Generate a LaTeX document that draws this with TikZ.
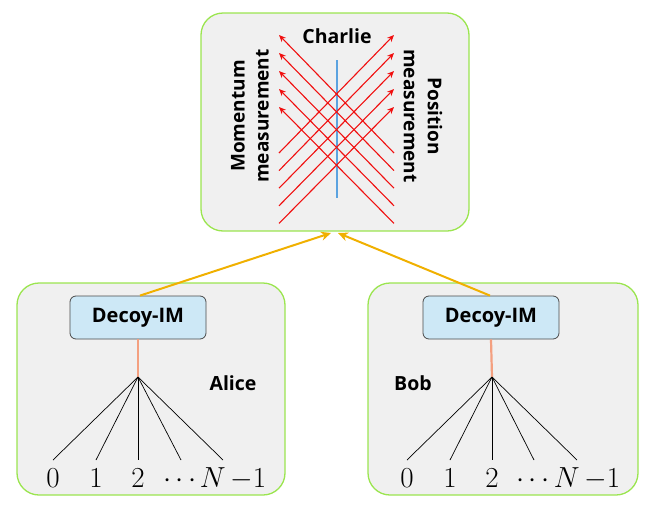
\RequirePackage{fix-cm}
\documentclass[tikz,border=0pt]{standalone}
\usepackage{fontspec}
\setsansfont{Open Sans}
\usetikzlibrary{arrows.meta}
\definecolor{boxgray}{HTML}{F0F0F0}
\definecolor{boxgreen}{HTML}{9BE550}
\definecolor{imblue}{HTML}{CDE8F6}
\definecolor{imborder}{HTML}{4A4A4A}
\definecolor{salmon}{HTML}{F4A080}
\definecolor{gold}{HTML}{F0B000}
\definecolor{laserred}{HTML}{F01010}
\definecolor{lineblue}{HTML}{5BA3E0}
\begin{document}
\begin{tikzpicture}[x=1pt,y=-1pt,
  party/.style={draw=boxgreen,line width=1.3pt,fill=boxgray,rounded corners=22pt},
  imbox/.style={draw=imborder,line width=0.8pt,fill=imblue,rounded corners=6pt,minimum width=136pt,minimum height=43pt,font=\sffamily\bfseries\fontsize{20}{24}\selectfont},
  lbl/.style={font=\sffamily\bfseries\fontsize{19.5}{24}\selectfont},
  rot/.style={font=\sffamily\bfseries\fontsize{19}{24}\selectfont,align=center},
  num/.style={font=\fontsize{29}{34}\selectfont,anchor=base},
  fan/.style={line width=0.7pt,black},
  feed/.style={salmon,line width=2.2pt},
  link/.style={gold,line width=2pt,-{Stealth[length=10pt,width=9pt]}},
  laser/.style={laserred,line width=1.1pt,-{Stealth[length=7pt,width=6pt]}}
]
\useasboundingbox (0,0) rectangle (654,509);
% Charlie box
\draw[party] (201,13) rectangle (469,231);
\node[lbl] (charlie) at (337,36) {Charlie};
\coordinate (bt) at (337,60);
\coordinate (bb) at (337,198);
\draw[lineblue,line width=1.3pt] (bt) -- (bb);
\foreach \k in {0,...,4}{
  \coordinate (la\k) at (394,{153+17.6*\k});
  \coordinate (lt\k) at (279,{35+18*\k});
  \coordinate (ra\k) at (279,{153+17.6*\k});
  \coordinate (rt\k) at (394,{35+18*\k});
  \draw[laser] (la\k) -- (lt\k);
  \draw[laser] (ra\k) -- (rt\k);
}
\node[rot,rotate=90] (mom) at (250,116) {Momentum\\measurement};
\node[rot,rotate=-90] (pos) at (423,116) {Position\\measurement};
% Alice box
\draw[party] (17,283) rectangle (285,495);
\node[imbox] (imA) at (138,317.5) {Decoy-IM};
\coordinate (fA) at (138,377);
\draw[feed] (imA.south) -- (fA);
\node[lbl] (alice) at (233,383) {Alice};
\foreach \x [count=\i] in {53,96,138,181,223}{
  \coordinate (eA\i) at (\x,460);
  \draw[fan] (fA) -- (eA\i);
}
\node[num] (a0) at (53,487) {$0$};
\node[num] (a1) at (96,487) {$1$};
\node[num] (a2) at (138,487) {$2$};
\node[num] (a3) at (180,487) {$\cdots$};
\node[num] (a4) at (233,487) {$N\,{-}1$};
% Bob box
\draw[party] (368,283) rectangle (638,495);
\node[imbox] (imB) at (491,317.5) {Decoy-IM};
\coordinate (fB) at (492,377);
\draw[feed] (imB.south) -- (fB);
\node[lbl] (bob) at (413,383) {Bob};
\foreach \x [count=\i] in {407,450,492,534,577}{
  \coordinate (eB\i) at (\x,460);
  \draw[fan] (fB) -- (eB\i);
}
\node[num] (b0) at (407,487) {$0$};
\node[num] (b1) at (450,487) {$1$};
\node[num] (b2) at (492,487) {$2$};
\node[num] (b3) at (533,487) {$\cdots$};
\node[num] (b4) at (587,487) {$N\,{-}1$};
% links to Charlie
\coordinate (cA) at (331,233);
\coordinate (cB) at (338,233);
\draw[link] (imA.north) ++(2,0) -- (cA);
\draw[link] (imB.north) ++(-1,0) -- (cB);
\end{tikzpicture}
\end{document}
